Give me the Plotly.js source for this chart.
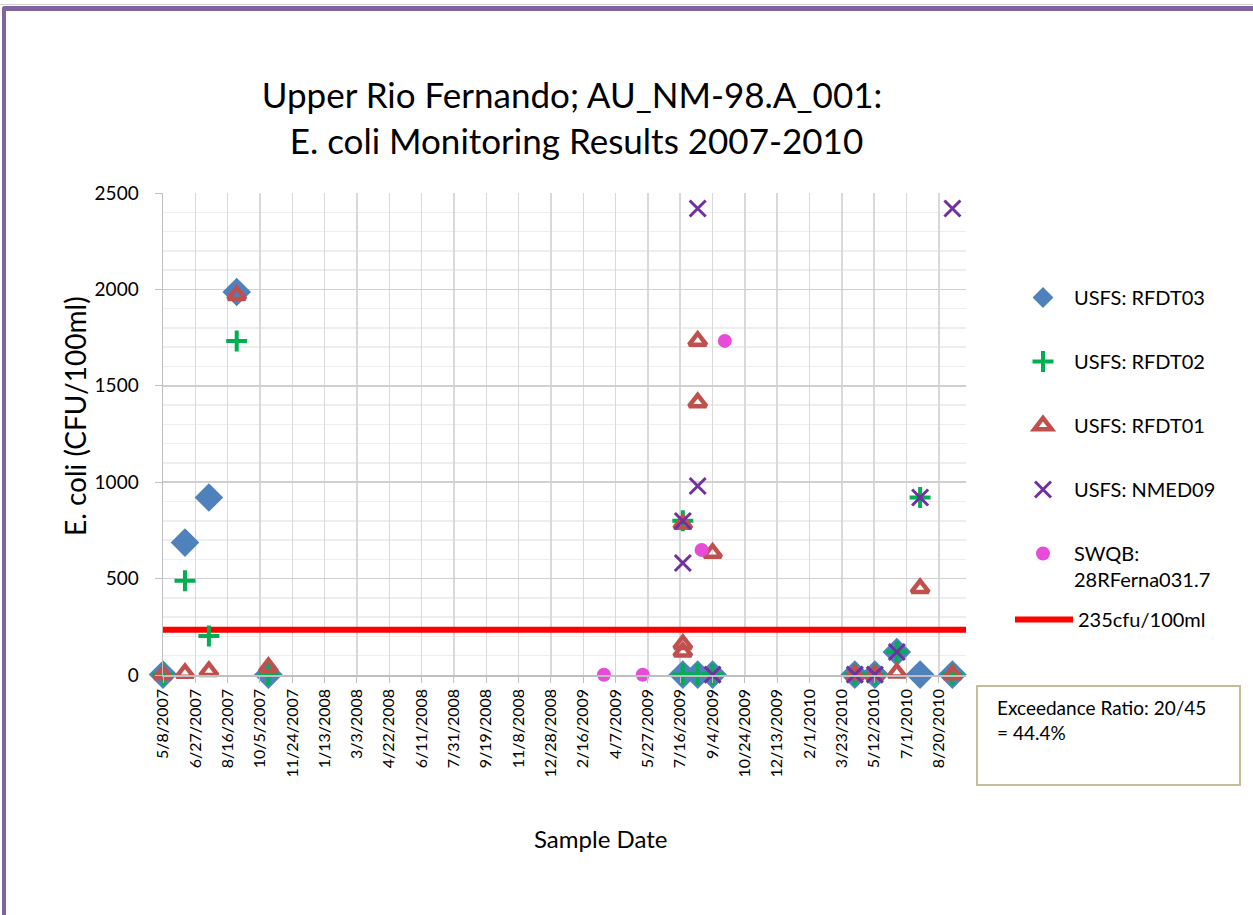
<!DOCTYPE html>
<html><head><meta charset="utf-8">
<script src="https://cdn.plot.ly/plotly-3.0.1.min.js"></script>
<style>
html,body{margin:0;padding:0;background:#fff;overflow:hidden;}
#frame{position:absolute;left:2px;top:6px;width:1300px;height:1000px;border-top:5px solid #8064A2;border-left:4px solid #8064A2;border-top-left-radius:3px;}
#topline{position:absolute;left:0;top:4px;width:1253px;height:1px;background:#cfcfcf;}
#chart{position:absolute;left:0;top:0;width:1253px;height:915px;}
</style></head><body>
<div id="topline"></div>
<div id="frame"></div>
<div id="chart"></div>
<script>
// ---- data ----
const rfdt03Dates = ['2007-05-08','2007-06-11','2007-07-18','2007-08-30','2007-10-18','2009-07-20','2009-08-12','2009-09-04','2010-04-12','2010-05-13','2010-06-16','2010-07-22','2010-09-10'];
const rfdt03Values = [2, 686.7, 920.8, 1986.3, 2, 2, 2, 2, 2, 2, 119, 2, 2];

const rfdt02Dates = ['2007-05-08','2007-06-11','2007-07-18','2007-08-30','2007-10-18','2009-07-20','2009-07-20','2009-08-12','2009-09-04','2010-04-12','2010-05-13','2010-06-16','2010-07-22','2010-09-10'];
const rfdt02Values = [2, 488.4, 202, 1732.9, 2, 800, 2, 2, 2, 2, 2, 119, 920.8, 2];

const rfdt01Dates = ['2007-05-08','2007-06-11','2007-07-18','2007-08-30','2007-10-18','2009-07-20','2009-07-20','2009-07-20','2009-08-12','2009-08-12','2009-09-04','2010-04-12','2010-05-13','2010-06-16','2010-07-22','2010-09-10'];
const rfdt01Values = [2, 10, 20, 1970, 40, 783, 160, 120, 1732.9, 1413.6, 633, 2, 2, 12, 450, 2];

const nmed09Dates = ['2009-07-20','2009-07-20','2009-08-12','2009-08-12','2009-09-04','2010-04-12','2010-05-13','2010-06-16','2010-07-22','2010-09-10'];
const nmed09Values = [799, 581, 2419.6, 980.4, 2, 2, 2, 119, 920.8, 2419.6];

const swqbDates = ['2009-03-20','2009-05-19','2009-08-18','2009-09-23'];
const swqbValues = [1, 1, 648.8, 1732.9];

const thresholdDates = ['2007-05-08','2010-10-01'];
const thresholdValues = [235, 235];

const tickLabels = ['5/8/2007','6/27/2007','8/16/2007','10/5/2007','11/24/2007','1/13/2008','3/3/2008','4/22/2008','6/11/2008','7/31/2008','9/19/2008','11/8/2008','12/28/2008','2/16/2009','4/7/2009','5/27/2009','7/16/2009','9/4/2009','10/24/2009','12/13/2009','2/1/2010','3/23/2010','5/12/2010','7/1/2010','8/20/2010'];
const yTicks = [0, 500, 1000, 1500, 2000, 2500];
const seriesNames = ['USFS: RFDT03','USFS: RFDT02','USFS: RFDT01','USFS: NMED09','SWQB:<br>28RFerna031.7','235cfu/100ml'];

// ---- build ----
function toIso(s){const p=s.split('/');return p[2]+'-'+p[0].padStart(2,'0')+'-'+p[1].padStart(2,'0');}
const tickVals = tickLabels.map(toIso);
const FONT = 'Lato, "Open Sans", sans-serif';

const traces = [
  {x: thresholdDates, y: thresholdValues, mode:'lines', name: seriesNames[5], legend:'legend2',
   line:{color:'#FF0000', width:6}, hoverinfo:'skip'},
  {x: rfdt03Dates, y: rfdt03Values, mode:'markers', name: seriesNames[0], legendgroup:'a', legendrank:1, cliponaxis:false,
   marker:{symbol:'diamond', size:22, color:'#4F81BD', line:{width:0}}},
  {x: rfdt02Dates, y: rfdt02Values, mode:'markers', name: seriesNames[1], legendgroup:'b', legendrank:2, cliponaxis:false,
   marker:{symbol:'cross-thin-open', size:15, color:'#00B050', line:{width:4, color:'#00B050'}}},
  {x: rfdt01Dates, y: rfdt01Values, mode:'markers', name: seriesNames[2], legendgroup:'c', legendrank:3, cliponaxis:false,
   marker:{symbol:'triangle-up-open', size:15, color:'#C0504D', line:{width:4.5, color:'#C0504D'}}},
  {x: nmed09Dates, y: nmed09Values, mode:'markers', name: seriesNames[3], legendgroup:'d', legendrank:4, cliponaxis:false,
   marker:{symbol:'x-thin-open', size:16, color:'#7030A0', line:{width:3, color:'#7030A0'}}},
  {x: swqbDates, y: swqbValues, mode:'markers', name: seriesNames[4], legendgroup:'e', legendrank:5, cliponaxis:false,
   marker:{symbol:'circle', size:14, color:'#E84BD8', line:{width:0}}}
];

const L = 163, R = 966, T = 193, B = 675;
const pw = R - L, ph = B - T;
const px = v => (v - L) / pw;
const py = v => (B - v) / ph;

const layout = {
  width:1253, height:915,
  margin:{l:L, r:1253-R, t:T, b:915-B, pad:0},
  paper_bgcolor:'rgba(0,0,0,0)', plot_bgcolor:'#FFFFFF',
  font:{family:FONT, color:'#000000', size:18},
  showlegend:true,
  title:{text:'Upper Rio Fernando; AU_NM-98.A_001:<br> E. coli Monitoring Results 2007-2010',
         font:{family:FONT, size:35, color:'#000'}, xref:'container', yref:'container',
         x:572/1253, xanchor:'center', y:1-108/915, yanchor:'top'},
  xaxis:{type:'date', range:[thresholdDates[0], thresholdDates[1]], tickvals:tickVals, ticktext:tickLabels,
         tickangle:-90, ticks:'outside', ticklen:6, tickcolor:'#BFBFBF', tickwidth:1,
         showgrid:true, gridcolor:'#D9D9D9', gridwidth:1.5, showline:true, linecolor:'#BFBFBF', linewidth:1.5,
         zeroline:false, tickfont:{family:FONT, size:16, color:'#000'}, automargin:false},
  yaxis:{range:[0,2500], tickvals:yTicks, ticks:'outside', ticklen:7, tickcolor:'#BFBFBF',
         showgrid:true, gridcolor:'#D0D0D0', gridwidth:1.5, showline:true, linecolor:'#BFBFBF', linewidth:1.5,
         zeroline:false, tickfont:{family:FONT, size:19, color:'#000'}, ticklabelstandoff:12, automargin:false,
         minor:{dtick:100, showgrid:true, gridcolor:'#EEEEEE', gridwidth:1.5, ticks:''}},
  legend:{x:px(1012), y:py(278), xanchor:'left', yanchor:'top', traceorder:'grouped', tracegroupgap:35,
          valign:'top', itemwidth:52, font:{family:FONT, size:20, color:'#000'}, bgcolor:'rgba(0,0,0,0)'},
  legend2:{x:px(1010), y:py(600), xanchor:'left', yanchor:'top', itemwidth:58,
          font:{family:FONT, size:20, color:'#000'}, bgcolor:'rgba(0,0,0,0)'},
  shapes:[{type:'rect', xref:'paper', yref:'paper', x0:px(977), x1:px(1240), y0:py(785), y1:py(686),
           line:{color:'#C4BD97', width:2}, fillcolor:'#FFFFFF', layer:'above'}],
  annotations:[
    {xref:'paper', yref:'paper', x:px(995), y:py(694), xanchor:'left', yanchor:'top', align:'left',
     showarrow:false, text:'Exceedance Ratio: 20/45<br>= 44.4%', font:{family:FONT, size:19, color:'#000'}},
    {xref:'paper', yref:'paper', x:px(600), y:py(838), xanchor:'center', yanchor:'middle',
     showarrow:false, text:'Sample Date', font:{family:FONT, size:24, color:'#000'}},
    {xref:'paper', yref:'paper', x:px(75), y:py(416), xanchor:'center', yanchor:'middle', textangle:-90,
     showarrow:false, text:'E. coli (CFU/100ml)', font:{family:FONT, size:28, color:'#000'}}
  ]
};

Plotly.newPlot('chart', traces, layout, {displayModeBar:false, staticPlot:true});
</script></body></html>
